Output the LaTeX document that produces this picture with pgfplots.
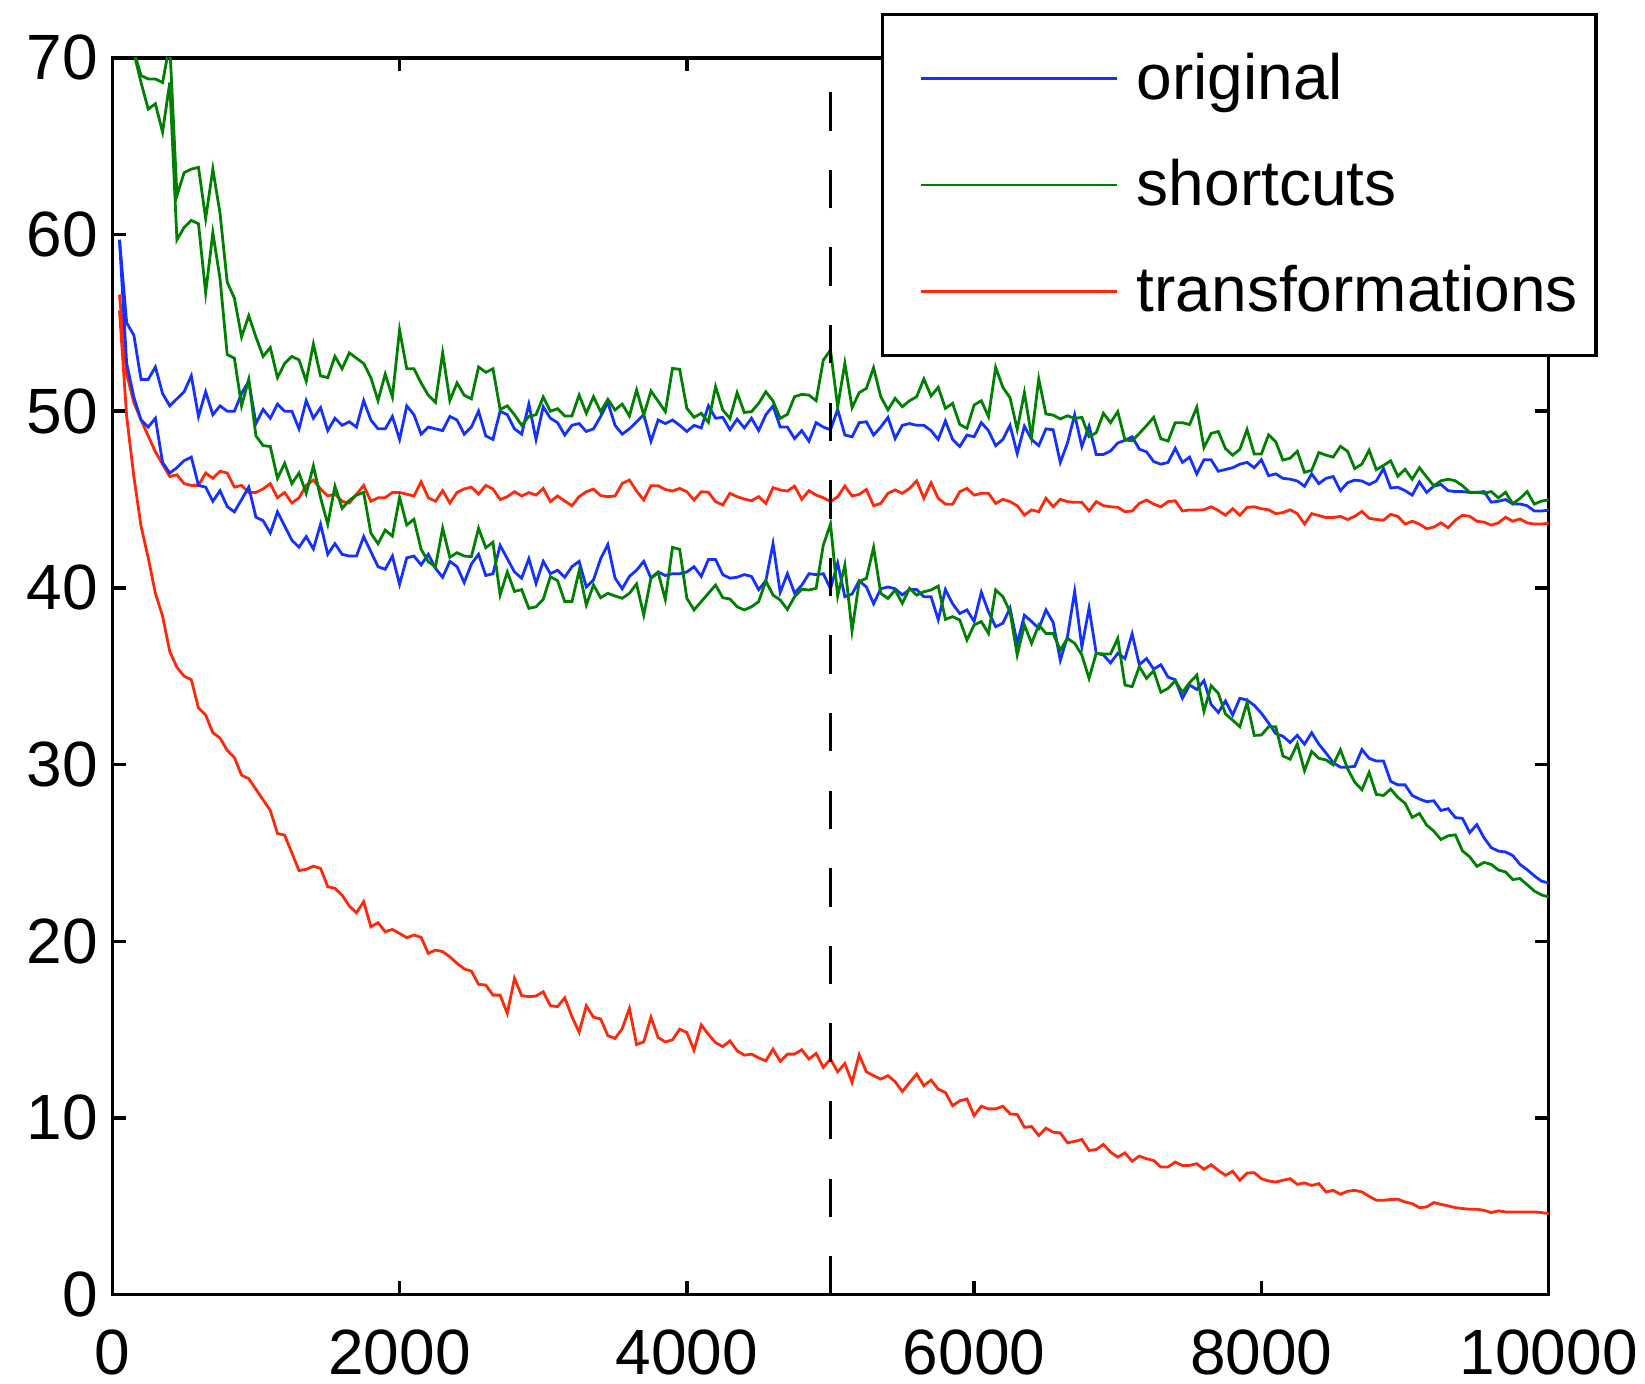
\documentclass[border=0pt]{standalone}
\usepackage{fontspec}
\setmainfont{Liberation Sans}
\usepackage{pgfplots}
\pgfplotsset{compat=1.18}
\definecolor{mblue}{RGB}{20,50,255}
\definecolor{mgreen}{RGB}{0,128,0}
\definecolor{mred}{RGB}{255,40,10}
\begin{document}
\begin{tikzpicture}
\begin{axis}[
  scale only axis,
  width=359.1pt, height=309.2pt,
  xmin=0, xmax=10000, ymin=0, ymax=70,
  xtick={0,2000,4000,6000,8000,10000},
  xticklabels={0,2000,4000,6000,8000,10000},
  ytick={0,10,20,30,40,50,60,70},
  yticklabels={0,10,20,30,40,50,60,70},
  tick align=inside,
  major tick length=3.4pt,
  axis line style={line width=0.85pt},
  tick style={line width=0.85pt, black},
  tick label style={font=\fontsize{16}{19}\selectfont},
  xticklabel style={inner sep=1pt, yshift=-7.5pt},
  legend style={at={(0.5352,1.0362)}, anchor=north west, draw=black, line width=0.8pt, fill=white,
    inner xsep=2.5pt, inner ysep=7.5pt, row sep=9.45pt, column sep=2.6pt,
    nodes={inner sep=2pt, text depth=0.15em}, font=\fontsize{16}{19}\selectfont},
  legend cell align=left,
  legend image code/.code={\path (-6.75pt,0pt); \draw[#1] (0pt,0pt) -- (49pt,0pt);},
  every axis plot/.append style={line width=0.7pt},
]
% original (upper)
\addplot[mblue] coordinates {(50,59.7)(100,55.0)(150,54.3)(200,51.8)(250,51.8)(300,52.5)(350,51.0)(400,50.3)(450,50.7)(500,51.1)(550,52.0)(600,49.7)(650,51.1)(700,49.8)(750,50.3)(800,50.0)(850,50.0)(900,51.0)(950,51.7)(1000,49.3)(1050,50.1)(1100,49.6)(1150,50.4)(1200,50.0)(1250,50.0)(1300,49.0)(1350,50.6)(1400,49.6)(1450,50.2)(1500,48.9)(1550,49.6)(1600,49.2)(1650,49.4)(1700,49.1)(1750,50.6)(1800,49.5)(1850,49.0)(1900,49.0)(1950,49.7)(2000,48.4)(2050,50.3)(2100,49.8)(2150,48.7)(2200,49.1)(2250,49.0)(2300,48.9)(2350,49.7)(2400,49.5)(2450,48.7)(2500,49.1)(2550,50.0)(2600,48.6)(2650,48.4)(2700,50.0)(2750,49.8)(2800,49.0)(2850,48.7)(2900,50.4)(2950,48.4)(3000,50.25)(3050,49.6)(3100,49.35)(3150,48.65)(3200,49.2)(3250,49.3)(3300,48.85)(3350,49.0)(3400,49.7)(3450,50.5)(3500,49.2)(3550,48.7)(3600,49.0)(3650,49.4)(3700,49.8)(3750,48.3)(3800,49.5)(3850,49.3)(3900,49.5)(3950,49.2)(4000,48.85)(4050,49.2)(4100,49.05)(4150,50.3)(4200,49.6)(4250,49.65)(4300,48.95)(4350,49.55)(4400,49.05)(4450,49.6)(4500,48.9)(4550,49.8)(4600,50.3)(4650,49.1)(4700,49.1)(4750,48.45)(4800,48.9)(4850,48.3)(4900,49.35)(4950,49.1)(5000,48.95)(5050,50.1)(5100,48.65)(5150,48.55)(5200,49.35)(5250,49.4)(5300,48.65)(5350,49.1)(5400,49.65)(5450,48.45)(5500,49.2)(5550,49.3)(5600,49.2)(5650,49.2)(5700,48.9)(5750,48.4)(5800,49.45)(5850,48.4)(5900,48.0)(5950,48.65)(6000,48.55)(6050,49.35)(6100,48.9)(6150,48.05)(6200,48.4)(6250,49.2)(6300,47.6)(6350,49.15)(6400,48.4)(6450,48.05)(6500,49.0)(6550,48.95)(6600,47.1)(6650,48.2)(6700,49.8)(6750,48.0)(6800,49.15)(6850,47.55)(6900,47.55)(6950,47.75)(7000,48.2)(7050,48.35)(7100,48.55)(7150,47.85)(7200,47.7)(7250,47.15)(7300,47.0)(7350,47.1)(7400,47.9)(7450,47.1)(7500,47.4)(7550,46.45)(7600,47.25)(7650,47.25)(7700,46.6)(7750,46.7)(7800,46.8)(7850,47.0)(7900,47.1)(7950,46.8)(8000,47.25)(8050,46.35)(8100,46.45)(8150,46.2)(8200,46.15)(8250,46.05)(8300,45.75)(8350,46.45)(8400,45.9)(8450,46.2)(8500,46.3)(8550,45.5)(8600,45.95)(8650,46.1)(8700,46.05)(8750,45.85)(8800,46.05)(8850,46.75)(8900,45.65)(8950,45.7)(9000,45.5)(9050,45.25)(9100,46.0)(9150,45.4)(9200,45.75)(9250,45.85)(9300,45.5)(9350,45.45)(9400,45.45)(9450,45.4)(9500,45.4)(9550,45.45)(9600,44.85)(9650,44.9)(9700,45.0)(9750,44.75)(9800,44.75)(9850,44.65)(9900,44.35)(9950,44.35)(10000,44.4)};
\addlegendentry{original}
% shortcuts (upper)
\addplot[mgreen] coordinates {(50,100)(150,70.4)(200,69.0)(250,68.8)(300,68.8)(350,68.6)(400,70.8)(450,62.2)(500,63.5)(550,63.7)(600,63.8)(650,60.9)(700,63.7)(750,61.2)(800,57.3)(850,56.4)(900,54.2)(950,55.4)(1000,54.2)(1050,53.1)(1100,53.6)(1150,51.9)(1200,52.7)(1250,53.1)(1300,52.9)(1350,51.7)(1400,53.8)(1450,52.0)(1500,51.9)(1550,53.1)(1600,52.4)(1650,53.3)(1700,53.0)(1750,52.7)(1800,51.9)(1850,50.6)(1900,52.1)(1950,50.8)(2000,54.6)(2050,52.4)(2100,52.4)(2150,51.6)(2200,50.9)(2250,50.5)(2300,53.3)(2350,50.6)(2400,51.6)(2450,50.9)(2500,50.7)(2550,52.5)(2600,52.2)(2650,52.4)(2700,50.1)(2750,50.3)(2800,49.8)(2850,49.2)(2900,49.7)(2950,49.8)(3000,50.8)(3050,50.0)(3100,50.14)(3150,49.73)(3200,49.73)(3250,50.91)(3300,49.88)(3350,50.82)(3400,49.97)(3450,50.67)(3500,50.07)(3550,50.40)(3600,49.73)(3650,51.20)(3700,49.78)(3750,51.14)(3800,50.57)(3850,49.97)(3900,52.42)(3950,52.37)(4000,50.16)(4050,49.65)(4100,49.88)(4150,49.37)(4200,51.39)(4250,50.07)(4300,49.59)(4350,51.05)(4400,49.93)(4450,49.97)(4500,50.44)(4550,51.10)(4600,50.57)(4650,49.59)(4700,49.82)(4750,50.82)(4800,50.95)(4850,50.91)(4900,50.59)(4950,52.89)(5000,53.46)(5050,50.25)(5100,52.71)(5150,50.20)(5200,51.05)(5250,51.29)(5300,52.46)(5350,50.82)(5400,50.07)(5450,50.73)(5500,50.25)(5550,50.59)(5600,50.82)(5650,51.82)(5700,50.86)(5750,51.35)(5800,50.16)(5850,50.44)(5900,49.25)(5950,49.03)(6000,50.35)(6050,50.59)(6100,49.69)(6150,52.48)(6200,51.35)(6250,50.76)(6300,48.97)(6350,51.05)(6400,48.56)(6450,51.82)(6500,49.84)(6550,49.78)(6600,49.56)(6650,49.74)(6700,49.59)(6750,49.65)(6800,48.56)(6850,48.78)(6900,49.88)(6950,49.35)(7000,49.97)(7050,48.37)(7100,48.33)(7150,48.74)(7200,49.18)(7250,49.65)(7300,48.44)(7350,48.31)(7400,49.35)(7450,49.35)(7500,49.24)(7550,50.22)(7600,47.94)(7650,48.74)(7700,48.85)(7750,47.88)(7800,47.51)(7850,47.84)(7900,48.96)(7950,47.58)(8000,47.58)(8050,48.66)(8100,48.27)(8150,47.23)(8200,47.34)(8250,47.73)(8300,46.54)(8350,46.65)(8400,47.66)(8450,47.51)(8500,47.40)(8550,48.01)(8600,47.73)(8650,46.75)(8700,47.01)(8750,47.79)(8800,46.69)(8850,46.93)(8900,47.19)(8950,46.32)(9000,46.71)(9050,46.15)(9100,46.80)(9150,46.28)(9200,45.78)(9250,46.06)(9300,46.15)(9350,46.06)(9400,45.78)(9450,45.41)(9500,45.41)(9550,45.35)(9600,45.45)(9650,45.09)(9700,45.41)(9750,44.76)(9800,45.06)(9850,45.45)(9900,44.74)(9950,44.91)(10000,44.98)};
\addlegendentry{shortcuts}
% transformations (upper)
\addplot[mred] coordinates {(50,56.6)(100,52.1)(150,50.5)(200,49.5)(250,48.6)(300,47.7)(350,47.0)(400,46.3)(450,46.4)(500,45.9)(550,45.8)(600,45.8)(650,46.5)(700,46.2)(750,46.6)(800,46.5)(850,45.7)(900,45.8)(950,45.4)(1000,45.4)(1050,45.6)(1100,45.9)(1150,45.1)(1200,45.4)(1250,44.8)(1300,45.1)(1350,45.8)(1400,46.1)(1450,45.6)(1500,45.2)(1550,45.3)(1600,44.9)(1650,44.8)(1700,45.3)(1750,45.8)(1800,44.9)(1850,45.1)(1900,45.1)(1950,45.4)(2000,45.4)(2050,45.3)(2100,45.2)(2150,46.0)(2200,45.1)(2250,44.9)(2300,45.5)(2350,44.8)(2400,45.4)(2450,45.6)(2500,45.7)(2550,45.3)(2600,45.8)(2650,45.6)(2700,45.0)(2750,45.16)(2800,45.44)(2850,45.20)(2900,45.39)(2950,45.25)(3000,45.63)(3050,44.88)(3100,45.20)(3150,44.91)(3200,44.65)(3250,45.16)(3300,45.44)(3350,45.59)(3400,45.22)(3450,45.16)(3500,45.20)(3550,45.91)(3600,46.10)(3650,45.48)(3700,44.97)(3750,45.78)(3800,45.78)(3850,45.57)(3900,45.48)(3950,45.63)(4000,45.44)(4050,44.97)(4100,45.44)(4150,45.41)(4200,44.88)(4250,44.69)(4300,45.35)(4350,45.16)(4400,45.03)(4450,44.93)(4500,45.16)(4550,44.78)(4600,45.67)(4650,45.54)(4700,45.48)(4750,45.76)(4800,45.01)(4850,45.50)(4900,45.25)(4950,45.10)(5000,44.88)(5050,45.16)(5100,45.76)(5150,45.20)(5200,45.29)(5250,45.57)(5300,44.65)(5350,44.78)(5400,45.35)(5450,45.54)(5500,45.35)(5550,45.63)(5600,46.05)(5650,45.07)(5700,45.95)(5750,45.07)(5800,44.74)(5850,44.73)(5900,45.44)(5950,45.63)(6000,45.25)(6050,45.35)(6100,45.35)(6150,44.78)(6200,45.01)(6250,44.88)(6300,44.65)(6350,44.12)(6400,44.41)(6450,44.31)(6500,45.07)(6550,44.59)(6600,45.01)(6650,44.88)(6700,44.84)(6750,44.84)(6800,44.35)(6850,44.88)(6900,44.65)(6950,44.59)(7000,44.56)(7050,44.31)(7100,44.35)(7150,44.78)(7200,44.97)(7250,44.74)(7300,44.59)(7350,44.88)(7400,44.93)(7450,44.35)(7500,44.41)(7550,44.40)(7600,44.42)(7650,44.59)(7700,44.37)(7750,44.11)(7800,44.48)(7850,44.11)(7900,44.55)(7950,44.59)(8000,44.48)(8050,44.42)(8100,44.20)(8150,44.26)(8200,44.42)(8250,44.20)(8300,43.61)(8350,44.20)(8400,44.09)(8450,43.98)(8500,43.98)(8550,44.05)(8600,43.87)(8650,44.05)(8700,44.33)(8750,43.94)(8800,43.87)(8850,43.83)(8900,44.16)(8950,44.05)(9000,43.61)(9050,43.77)(9100,43.61)(9150,43.35)(9200,43.44)(9250,43.68)(9300,43.40)(9350,43.83)(9400,44.11)(9450,44.05)(9500,43.77)(9550,43.72)(9600,43.55)(9650,43.68)(9700,44.00)(9750,43.77)(9800,43.90)(9850,43.68)(9900,43.61)(9950,43.61)(10000,43.66)};
\addlegendentry{transformations}
% original (lower)
\addplot[mblue, forget plot] coordinates {(50,59.7)(100,52.7)(150,50.8)(200,49.5)(250,49.1)(300,49.6)(350,47.1)(400,46.5)(450,46.8)(500,47.2)(550,47.4)(600,45.8)(650,45.7)(700,44.9)(750,45.5)(800,44.6)(850,44.3)(900,45.0)(950,45.7)(1000,44.0)(1050,43.8)(1100,43.1)(1150,44.3)(1200,43.5)(1250,42.7)(1300,42.3)(1350,42.9)(1400,42.2)(1450,43.6)(1500,41.9)(1550,42.5)(1600,41.9)(1650,41.8)(1700,41.8)(1750,42.9)(1800,42.05)(1850,41.2)(1900,41.05)(1950,41.8)(2000,40.2)(2050,41.7)(2100,41.8)(2150,41.3)(2200,41.9)(2250,41.1)(2300,40.6)(2350,41.5)(2400,41.2)(2450,40.3)(2500,41.35)(2550,41.9)(2600,40.7)(2650,40.8)(2700,42.4)(2750,41.65)(2800,40.9)(2850,40.55)(2900,41.65)(2950,40.25)(3000,41.5)(3050,40.8)(3100,41.0)(3150,40.6)(3200,41.2)(3250,41.5)(3300,40.05)(3350,40.45)(3400,41.65)(3450,42.45)(3500,40.55)(3550,39.95)(3600,40.65)(3650,41.0)(3700,41.5)(3750,40.55)(3800,40.9)(3850,40.7)(3900,40.8)(3950,40.8)(4000,40.9)(4050,41.2)(4100,40.65)(4150,41.6)(4200,41.6)(4250,40.75)(4300,40.55)(4350,40.6)(4400,40.75)(4450,40.65)(4500,39.9)(4550,40.4)(4600,42.5)(4650,39.75)(4700,40.8)(4750,39.7)(4800,40.15)(4850,40.8)(4900,40.75)(4950,40.8)(5000,39.95)(5050,41.4)(5100,39.5)(5150,39.65)(5200,40.4)(5250,40.05)(5300,39.1)(5350,39.95)(5400,40.05)(5450,39.95)(5500,39.6)(5550,39.9)(5600,39.9)(5650,39.5)(5700,39.5)(5750,38.2)(5800,39.9)(5850,39.1)(5900,38.55)(5950,38.75)(6000,38.1)(6050,39.75)(6100,38.65)(6150,37.8)(6200,38.0)(6250,38.85)(6300,36.85)(6350,38.45)(6400,38.1)(6450,37.7)(6500,38.75)(6550,38.05)(6600,35.9)(6650,37.25)(6700,39.8)(6750,36.65)(6800,38.85)(6850,36.3)(6900,36.2)(6950,35.75)(7000,36.3)(7050,36.0)(7100,37.4)(7150,35.65)(7200,36.0)(7250,35.4)(7300,35.65)(7350,34.95)(7400,34.8)(7450,33.75)(7500,34.5)(7550,34.25)(7600,34.75)(7650,33.4)(7700,32.95)(7750,33.6)(7800,32.8)(7850,33.75)(7900,33.65)(7950,33.35)(8000,32.9)(8050,32.35)(8100,31.75)(8150,31.6)(8200,31.25)(8250,31.65)(8300,31.15)(8350,31.8)(8400,31.15)(8450,30.65)(8500,30.1)(8550,29.85)(8600,29.85)(8650,29.9)(8700,30.85)(8750,30.35)(8800,30.2)(8850,30.2)(8900,29.05)(8950,28.85)(9000,28.85)(9050,28.25)(9100,28.05)(9150,27.9)(9200,27.95)(9250,27.4)(9300,27.5)(9350,27.0)(9400,26.95)(9450,26.15)(9500,26.6)(9550,25.85)(9600,25.3)(9650,25.1)(9700,25.05)(9750,24.85)(9800,24.35)(9850,24.05)(9900,23.7)(9950,23.4)(10000,23.3)};
% shortcuts (lower)
\addplot[mgreen, forget plot] coordinates {(50,100)(150,70.3)(200,68.6)(250,67.1)(300,67.4)(350,65.8)(400,68.6)(450,59.7)(500,60.4)(550,60.8)(600,60.6)(650,56.7)(700,60.1)(750,57.5)(800,53.2)(850,53.0)(900,50.3)(950,51.8)(1000,48.6)(1050,48.05)(1100,48.0)(1150,46.2)(1200,47.05)(1250,45.9)(1300,46.5)(1350,45.35)(1400,46.9)(1450,45.1)(1500,43.6)(1550,45.75)(1600,44.5)(1650,44.95)(1700,45.25)(1750,45.4)(1800,43.1)(1850,42.5)(1900,43.27)(1950,42.93)(2000,45.12)(2050,43.56)(2100,43.88)(2150,42.18)(2200,41.48)(2250,41.20)(2300,43.37)(2350,41.73)(2400,41.99)(2450,41.80)(2500,41.77)(2550,43.37)(2600,42.27)(2650,42.58)(2700,39.6)(2750,40.9)(2800,39.8)(2850,39.9)(2900,38.84)(2950,38.93)(3000,39.35)(3050,40.63)(3100,40.41)(3150,39.22)(3200,39.22)(3250,40.97)(3300,39.03)(3350,40.16)(3400,39.44)(3450,39.69)(3500,39.54)(3550,39.41)(3600,39.69)(3650,40.22)(3700,38.46)(3750,40.54)(3800,40.86)(3850,39.35)(3900,42.29)(3950,42.18)(4000,39.41)(4050,38.75)(4100,39.22)(4150,39.69)(4200,40.16)(4250,39.44)(4300,39.37)(4350,38.93)(4400,38.75)(4450,38.93)(4500,39.22)(4550,40.39)(4600,39.59)(4650,39.31)(4700,38.78)(4750,39.50)(4800,39.92)(4850,39.88)(4900,39.97)(4950,42.42)(5000,43.61)(5050,39.54)(5100,41.29)(5150,37.58)(5200,40.35)(5250,40.54)(5300,42.29)(5350,39.69)(5400,39.40)(5450,39.88)(5500,39.12)(5550,39.97)(5600,39.59)(5650,39.78)(5700,39.88)(5750,40.10)(5800,38.22)(5850,38.37)(5900,38.18)(5950,37.05)(6000,37.90)(6050,38.09)(6100,37.42)(6150,39.88)(6200,39.50)(6250,38.65)(6300,36.20)(6350,37.90)(6400,36.86)(6450,37.90)(6500,37.42)(6550,37.42)(6600,36.48)(6650,37.14)(6700,36.86)(6750,36.20)(6800,34.88)(6850,36.29)(6900,36.26)(6950,36.26)(7000,37.14)(7050,34.50)(7100,34.41)(7150,35.54)(7200,34.88)(7250,35.30)(7300,34.09)(7350,34.31)(7400,34.74)(7450,34.09)(7500,34.63)(7550,35.06)(7600,33.01)(7650,34.46)(7700,34.03)(7750,32.86)(7800,32.51)(7850,32.14)(7900,33.51)(7950,31.65)(8000,31.67)(8050,32.14)(8100,32.14)(8150,30.48)(8200,30.30)(8250,31.17)(8300,29.65)(8350,30.74)(8400,30.35)(8450,30.26)(8500,29.98)(8550,30.84)(8600,29.76)(8650,29.00)(8700,28.57)(8750,29.55)(8800,28.31)(8850,28.25)(8900,28.61)(8950,28.14)(9000,27.81)(9050,27.01)(9100,27.23)(9150,26.58)(9200,26.23)(9250,25.76)(9300,25.97)(9350,26.02)(9400,25.11)(9450,24.78)(9500,24.24)(9550,24.46)(9600,24.35)(9650,24.03)(9700,23.92)(9750,23.49)(9800,23.55)(9850,23.20)(9900,22.84)(9950,22.62)(10000,22.51)};
% transformations (lower)
\addplot[mred, forget plot] coordinates {(50,55.7)(100,49.7)(150,46.3)(200,43.5)(250,41.7)(300,39.7)(350,38.4)(400,36.4)(450,35.5)(500,35.0)(550,34.8)(600,33.2)(650,32.8)(700,31.8)(750,31.5)(800,30.8)(850,30.4)(900,29.4)(950,29.2)(1000,28.6)(1050,28.0)(1100,27.4)(1150,26.1)(1200,26.0)(1250,25.0)(1300,24.0)(1350,24.07)(1400,24.25)(1450,24.12)(1500,23.09)(1550,22.99)(1600,22.61)(1650,21.99)(1700,21.61)(1750,22.24)(1800,20.82)(1850,21.05)(1900,20.54)(1950,20.67)(2000,20.44)(2050,20.20)(2100,20.35)(2150,20.22)(2200,19.31)(2250,19.50)(2300,19.41)(2350,19.12)(2400,18.75)(2450,18.43)(2500,18.31)(2550,17.56)(2600,17.52)(2650,16.95)(2700,16.95)(2750,15.92)(2800,17.90)(2850,16.92)(2900,16.86)(2950,16.90)(3000,17.14)(3050,16.35)(3100,16.3)(3150,16.8)(3200,15.73)(3250,14.85)(3300,16.35)(3350,15.7)(3400,15.6)(3450,14.65)(3500,14.5)(3550,15.05)(3600,16.2)(3650,14.15)(3700,14.3)(3750,15.7)(3800,14.55)(3850,14.3)(3900,14.42)(3950,15.02)(4000,14.83)(4050,13.83)(4100,15.26)(4150,14.73)(4200,14.26)(4250,14.04)(4300,14.36)(4350,13.80)(4400,13.55)(4450,13.61)(4500,13.4)(4550,13.23)(4600,13.89)(4650,13.20)(4700,13.61)(4750,13.61)(4800,13.86)(4850,13.33)(4900,13.65)(4950,12.86)(5000,13.33)(5050,12.61)(5100,13.08)(5150,12.01)(5200,13.57)(5250,12.61)(5300,12.39)(5350,12.20)(5400,12.39)(5450,12.05)(5500,11.49)(5550,12.0)(5600,12.48)(5650,11.82)(5700,12.14)(5750,11.63)(5800,11.44)(5850,10.69)(5900,10.97)(5950,11.07)(6000,10.13)(6050,10.66)(6100,10.51)(6150,10.51)(6200,10.66)(6250,10.23)(6300,10.19)(6350,9.47)(6400,9.51)(6450,9.00)(6500,9.42)(6550,9.19)(6600,9.15)(6650,8.59)(6700,8.67)(6750,8.78)(6800,8.16)(6850,8.21)(6900,8.50)(6950,8.06)(7000,7.78)(7050,8.02)(7100,7.55)(7150,7.84)(7200,7.69)(7250,7.59)(7300,7.22)(7350,7.22)(7400,7.50)(7450,7.31)(7500,7.31)(7550,7.41)(7600,7.09)(7650,7.35)(7700,7.03)(7750,6.75)(7800,6.98)(7850,6.47)(7900,6.88)(7950,6.90)(8000,6.56)(8050,6.43)(8100,6.37)(8150,6.47)(8200,6.56)(8250,6.24)(8300,6.32)(8350,6.18)(8400,6.28)(8450,5.81)(8500,5.90)(8550,5.68)(8600,5.85)(8650,5.90)(8700,5.81)(8750,5.56)(8800,5.34)(8850,5.34)(8900,5.38)(8950,5.40)(9000,5.24)(9050,5.15)(9100,4.92)(9150,4.96)(9200,5.21)(9250,5.11)(9300,5.02)(9350,4.92)(9400,4.87)(9450,4.83)(9500,4.83)(9550,4.77)(9600,4.64)(9650,4.74)(9700,4.68)(9750,4.68)(9800,4.68)(9850,4.68)(9900,4.68)(9950,4.64)(10000,4.59)};
% dashed marker at 5000
\addplot[black, forget plot, dash pattern=on 9.6pt off 9.8pt] coordinates {(5000,0) (5000,70)};
\end{axis}
\pgfresetboundingbox
\path[use as bounding box] (-28.075pt,-22.35pt) rectangle (383.18pt,323.65pt);
\end{tikzpicture}
\end{document}
